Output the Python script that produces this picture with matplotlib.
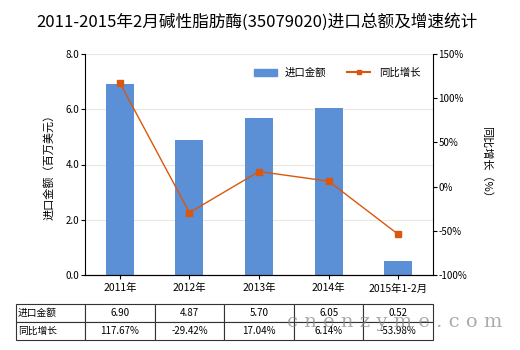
import numpy as np
import matplotlib.pyplot as plt
from matplotlib.patches import Patch
from matplotlib.lines import Line2D

plt.rcParams['font.family'] = ['Noto Sans CJK SC', 'DejaVu Sans']

years = ["2011年", "2012年", "2013年", "2014年", "2015年1-2月"]
amount = [6.90, 4.87, 5.70, 6.05, 0.52]          # 进口金额 (百万美元)
growth = [117.67, -29.42, 17.04, 6.14, -53.98]   # 同比增长 (%)

bar_color = '#5B8FD6'
line_color = '#D9570F'

fig = plt.figure(figsize=(5.2, 3.5), dpi=100)
W, H = 520, 350
ax = fig.add_axes([85 / W, (H - 275) / H, 348 / W, 221 / H])

x = np.arange(len(years))
ax.bar(x, amount, width=0.4, color=bar_color, zorder=2)
ax.set_xlim(-0.5, len(years) - 0.5)
ax.set_ylim(0, 8)
ax.set_yticks(np.arange(0, 8.1, 2))
ax.set_yticklabels([f"{v:.1f}" for v in np.arange(0, 8.1, 2)], fontsize=7)
ax.set_xticks(x)
ax.set_xticklabels(years, fontsize=7.5)
ax.tick_params(axis='x', length=3, width=0.8, pad=3)
ax.tick_params(axis='y', length=3, width=0.8, pad=1)
ax.grid(axis='y', color='#E8E8DC', linewidth=0.8, zorder=0)
ax.spines['top'].set_visible(False)
ax.spines['right'].set_visible(False)
ax.set_ylabel("进口金额（百万美元）", fontsize=8, labelpad=8)

ax2 = ax.twinx()
ax2.plot(x, growth, color=line_color, linewidth=1, marker='s', markersize=4, zorder=3)
ax2.set_ylim(-100, 150)
ax2.set_yticks(np.arange(-100, 151, 50))
ax2.set_yticklabels([f"{v}%" for v in range(-100, 151, 50)], fontsize=7)
ax2.tick_params(axis='y', length=3, width=0.8, pad=1)
ax2.spines['top'].set_visible(False)
ax2.spines['left'].set_visible(False)
ax2.set_ylabel("同比增长（%）", fontsize=8, rotation=-90, labelpad=18)

handles = [Patch(color=bar_color),
           Line2D([0], [0], color=line_color, linewidth=1.5, marker='s', markersize=3)]
ax.legend(handles, ["进口金额", "同比增长"], loc='upper right', ncol=2, frameon=False,
          fontsize=7.5, bbox_to_anchor=(0.99, 0.98), handlelength=2.2, columnspacing=2.0)

fig.text(0.495, 1 - 22 / H, "2011-2015年2月碱性脂肪酶(35079020)进口总额及增速统计",
         ha='center', va='center', fontsize=12)

# data table under the chart
cell_text = [["进口金额"] + [f"{v:.2f}" for v in amount],
             ["同比增长"] + [f"{v:.2f}%" for v in growth]]
tbl = ax.table(cellText=cell_text, cellLoc='center',
               bbox=[(16 - 85) / 348, (275 - 340) / 221, (433 - 16) / 348, 36 / 221],
               colWidths=[69 / 417] + [69.6 / 417] * 5)
tbl.auto_set_font_size(False)
for (r, c), cell in tbl.get_celld().items():
    cell.set_fontsize(7)
    cell.set_linewidth(0.8)
    cell.set_edgecolor('#333333')
    if c == 0:
        cell.set_text_props(ha='left')
        cell.PAD = 0.03

# site mark
fig.text(287 / W, 1 - 322 / H, "c n e n z y m e . c o m", ha='left', va='center',
         fontsize=14, color='#888888', family='DejaVu Serif', alpha=0.7)

fig.savefig('out.png', dpi=100)
